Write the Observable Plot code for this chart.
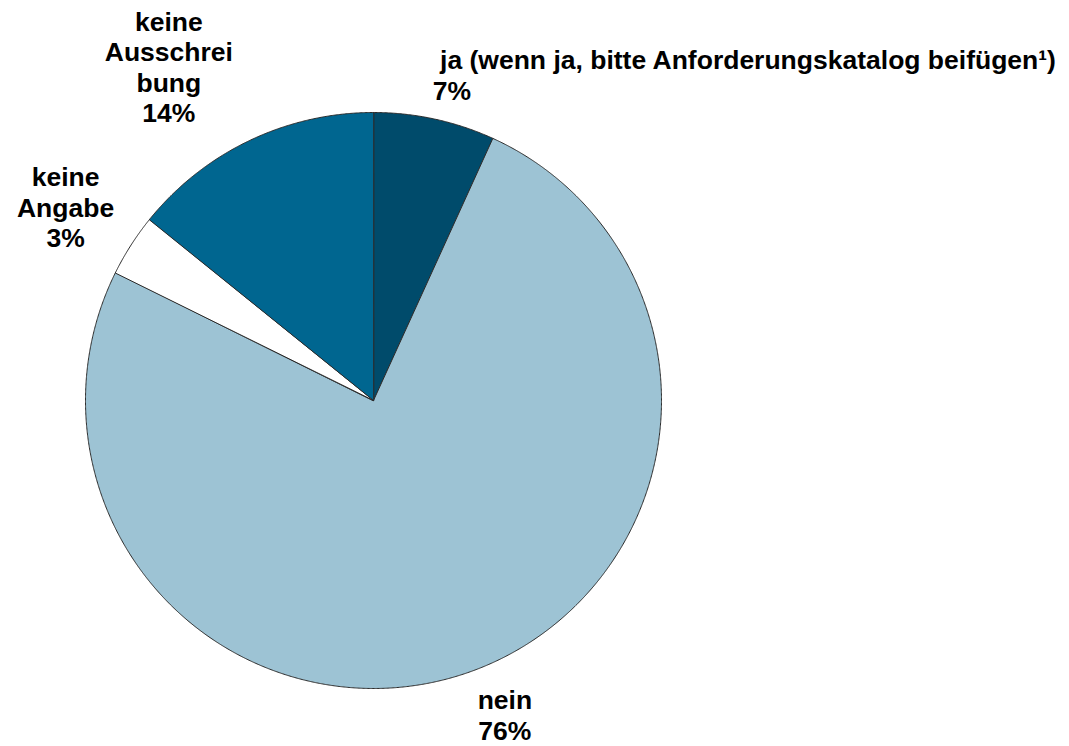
<!DOCTYPE html>
<html>
<head>
<meta charset="utf-8">
<script src="https://cdn.jsdelivr.net/npm/d3@7"></script>
<script src="https://cdn.jsdelivr.net/npm/@observablehq/plot@0.6"></script>
<style>
  html, body { margin: 0; padding: 0; background: #ffffff; }
  #chart svg { display: block; }
</style>
</head>
<body>
<div id="chart"></div>
<script>
// ---- data ----
const categories = ["ja", "nein", "keine Angabe", "keine Ausschreibung"];
const values = [6.8, 75.5, 3.5, 14.2];
const labelTexts = [
  "\u00a0ja (wenn ja, bitte Anforderungskatalog beifügen\u00b9)\n7%",
  "nein\n76%",
  "keine\nAngabe\n3%",
  "keine\nAusschrei\nbung\n14%"
];
const colors = ["#004b6b", "#9dc3d4", "#ffffff", "#006690"];

// ---- layout ----
const W = 1069, H = 746;
const cx = 373, cy = 400, R = 288;
const labelK = 1.1;
const labelAnchor = ["start", "middle", "middle", "middle"];
const labelDx = [-8, 25, -41, -68];
const labelDy = [-16, 16, -23, -48];

const arcs = d3.pie().sort(null).startAngle(0).endAngle(2 * Math.PI)(values);

const marks = [];
arcs.forEach((a, i) => {
  const pts = [[0, 0]];
  const n = Math.max(2, Math.ceil((a.endAngle - a.startAngle) / (Math.PI / 720)));
  for (let k = 0; k <= n; k++) {
    const t = a.startAngle + (a.endAngle - a.startAngle) * k / n;
    pts.push([Math.sin(t), Math.cos(t)]);
  }
  marks.push(Plot.line(pts, {
    x: d => d[0], y: d => d[1],
    curve: "linear-closed",
    fill: colors[i], stroke: "#2b2b2b", strokeWidth: 1, strokeLinejoin: "round"
  }));
});

arcs.forEach((a, i) => {
  const m = (a.startAngle + a.endAngle) / 2;
  marks.push(Plot.text([{x: Math.sin(m) * labelK, y: Math.cos(m) * labelK, t: labelTexts[i]}], {
    x: "x", y: "y", text: "t",
    textAnchor: labelAnchor[i], lineAnchor: "middle", lineHeight: 1.15,
    dx: labelDx[i], dy: labelDy[i],
    fontSize: 26.5, fontWeight: "bold", fill: "#000000",
    fontFamily: "'Liberation Sans', Arial, sans-serif"
  }));
});

const chart = Plot.plot({
  width: W, height: H,
  margin: 0,
  x: {domain: [-cx / R, (W - cx) / R], range: [0, W], axis: null},
  y: {domain: [(cy - H) / R, cy / R], range: [H, 0], axis: null},
  style: {background: "#ffffff", fontFamily: "'Liberation Sans', Arial, sans-serif"},
  marks
});
document.getElementById("chart").appendChild(chart);
</script>
</body>
</html>
